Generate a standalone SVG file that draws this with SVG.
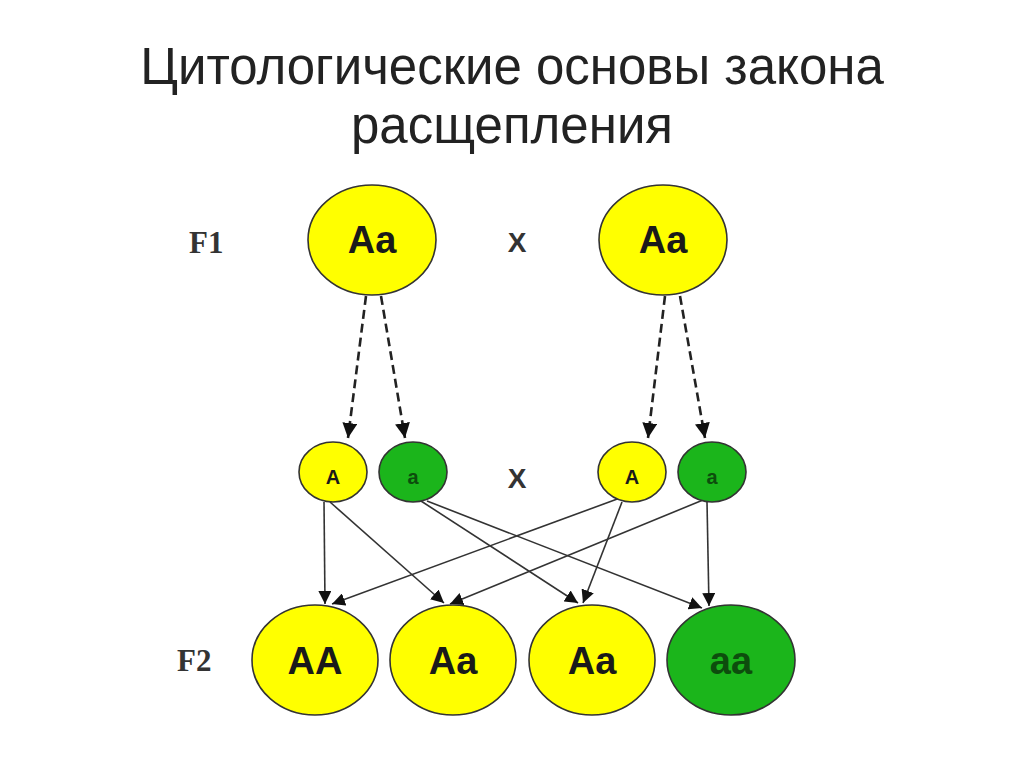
<svg xmlns="http://www.w3.org/2000/svg" width="1024" height="767" viewBox="0 0 1024 767">
<defs>
<marker id="ad" viewBox="0 0 10 10" refX="10" refY="5" markerWidth="15" markerHeight="15" markerUnits="userSpaceOnUse" orient="auto"><path d="M0,0 L10,5 L0,10 z" fill="#111"/></marker>
<marker id="as" viewBox="0 0 10 10" refX="10" refY="5" markerWidth="13" markerHeight="13" markerUnits="userSpaceOnUse" orient="auto"><path d="M0,0 L10,5 L0,10 z" fill="#111"/></marker>
</defs>
<style>
.t{font-family:"Liberation Sans",Arial,sans-serif;fill:#222;font-size:51px;text-anchor:middle}
.y{fill:#ffff00;stroke:#333;stroke-width:1.6}
.g{fill:#1bb51b;stroke:#333;stroke-width:1.6}
.big{font-family:"Liberation Sans",Arial,sans-serif;font-size:38px;font-weight:bold;text-anchor:middle;fill:#1a1a1a}
.sm{font-family:"Liberation Sans",Arial,sans-serif;font-size:20px;font-weight:bold;text-anchor:middle;fill:#1a1a1a}
.dg{fill:#0d4d0d}
.lab{font-family:"Liberation Serif","Times New Roman",serif;font-size:31px;font-weight:bold;fill:#333}
.x{font-family:"Liberation Sans",Arial,sans-serif;font-size:28px;font-weight:bold;fill:#333;text-anchor:middle}
.dash{stroke:#222;stroke-width:2.6;stroke-dasharray:9,5;fill:none}
.sol{stroke:#333;stroke-width:1.6;fill:none}
</style>
<rect width="1024" height="767" fill="#fff"/>
<text class="t" x="512" y="84">Цитологические основы закона</text>
<text class="t" x="512" y="143">расщепления</text>
<text class="lab" x="189" y="253">F1</text>
<text class="lab" x="177" y="671">F2</text>
<text class="x" x="517" y="252">X</text>
<text class="x" x="517" y="488">X</text>
<g id="connectors">
<line class="dash" x1="366" y1="296" x2="348" y2="438" marker-end="url(#ad)"/>
<line class="dash" x1="381" y1="296" x2="405" y2="438" marker-end="url(#ad)"/>
<line class="dash" x1="665" y1="296" x2="648" y2="438" marker-end="url(#ad)"/>
<line class="dash" x1="680" y1="296" x2="705" y2="438" marker-end="url(#ad)"/>
<line class="sol" x1="324" y1="502" x2="325" y2="604" marker-end="url(#as)"/>
<line class="sol" x1="330" y1="502" x2="444" y2="603" marker-end="url(#as)"/>
<line class="sol" x1="421" y1="501" x2="578" y2="603" marker-end="url(#as)"/>
<line class="sol" x1="427" y1="501" x2="702" y2="608" marker-end="url(#as)"/>
<line class="sol" x1="620" y1="498" x2="332" y2="604" marker-end="url(#as)"/>
<line class="sol" x1="622" y1="502" x2="583" y2="603" marker-end="url(#as)"/>
<line class="sol" x1="703" y1="500" x2="450" y2="604" marker-end="url(#as)"/>
<line class="sol" x1="707" y1="502" x2="709" y2="606" marker-end="url(#as)"/>
</g>
<g id="p1"><ellipse class="y" cx="372" cy="240" rx="64" ry="55"/><text class="big" x="372" y="253">Aa</text></g>
<g id="p2"><ellipse class="y" cx="663" cy="240" rx="64" ry="55"/><text class="big" x="663" y="253">Aa</text></g>
<g id="gA1"><ellipse class="y" cx="333" cy="472" rx="34" ry="30"/><text class="sm" x="333" y="484">A</text></g>
<g id="ga1"><ellipse class="g" cx="413" cy="472" rx="34" ry="30"/><text class="sm dg" x="413" y="484">a</text></g>
<g id="gA2"><ellipse class="y" cx="632" cy="472" rx="34" ry="30"/><text class="sm" x="632" y="484">A</text></g>
<g id="ga2"><ellipse class="g" cx="712" cy="472" rx="34" ry="30"/><text class="sm dg" x="712" y="484">a</text></g>
<g id="c1"><ellipse class="y" cx="315" cy="660" rx="63" ry="55"/><text class="big" x="315" y="674">AA</text></g>
<g id="c2"><ellipse class="y" cx="453" cy="660" rx="63" ry="55"/><text class="big" x="453" y="674">Aa</text></g>
<g id="c3"><ellipse class="y" cx="592" cy="660" rx="63" ry="55"/><text class="big" x="592" y="674">Aa</text></g>
<g id="c4"><ellipse class="g" cx="731" cy="660" rx="64" ry="55"/><text class="big dg" x="731" y="674">aa</text></g>
</svg>
